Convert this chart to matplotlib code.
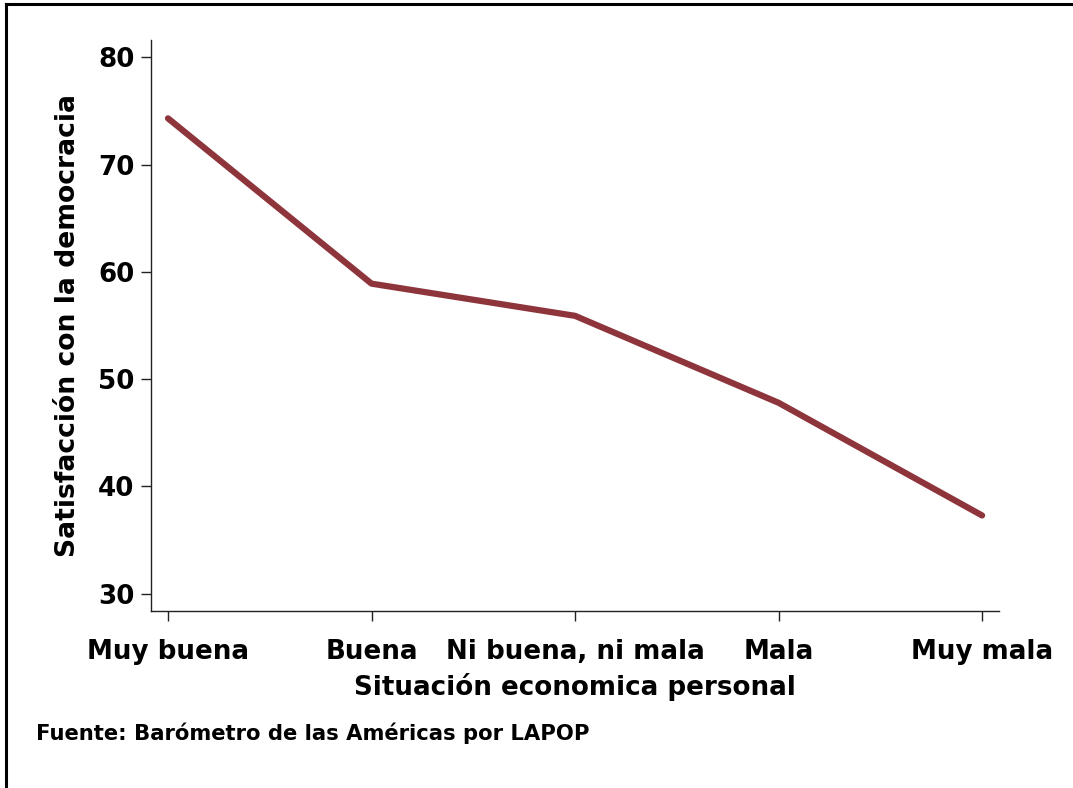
import matplotlib
matplotlib.use("Agg")
import matplotlib.pyplot as plt
from matplotlib.lines import Line2D

categories = ["Muy buena", "Buena", "Ni buena, ni mala", "Mala", "Muy mala"]
satisfaccion = [74.3, 58.9, 55.9, 47.8, 37.3]
yticks = [30, 40, 50, 60, 70, 80]

plt.rcParams['font.family'] = ['DejaVu Sans']
plt.rcParams['font.weight'] = 'bold'

W, H = 1073, 788
fig = plt.figure(figsize=(W / 100, H / 100), dpi=100)
fig.patch.set_facecolor('white')

ax = fig.add_axes([151 / W, 1 - 611 / H, (999 - 151) / W, (611 - 40) / H])
x = list(range(len(categories)))
ax.plot(x, satisfaccion, color='#8e353c', lw=4.5, solid_capstyle='round', solid_joinstyle='round')

ax.set_xlim(-0.0835, 4.083)
ax.set_ylim(28.4, 81.6)
ax.set_yticks(yticks)
ax.set_xticks(x)
ax.set_xticklabels(categories)

for s in ['top', 'right']:
    ax.spines[s].set_visible(False)
ax.spines['left'].set_linewidth(1.0)
ax.spines['bottom'].set_linewidth(1.0)
ax.spines['left'].set_color('#222222')
ax.spines['bottom'].set_color('#222222')
ax.tick_params(axis='both', direction='out', length=7, width=1.0, colors='#222222',
               labelcolor='black', labelsize=18.8)
ax.tick_params(axis='y', pad=5)
ax.tick_params(axis='x', pad=13)
for lab in ax.get_xticklabels() + ax.get_yticklabels():
    lab.set_fontweight('bold')

ax.set_ylabel("Satisfacción con la democracia", fontsize=19.2, fontweight='bold', labelpad=12)
ax.set_xlabel("Situación economica personal", fontsize=18.8, fontweight='bold', labelpad=6)

fig.text(36 / W, 1 - 740 / H, "Fuente: Barómetro de las Américas por LAPOP",
         fontsize=15.2, fontweight='bold', ha='left', va='baseline')

# figure frame (top and left edges visible)
fig.add_artist(Line2D([6 / W, 1.0], [1 - 4 / H, 1 - 4 / H], transform=fig.transFigure,
                      color='black', lw=2.2))
fig.add_artist(Line2D([6 / W, 6 / W], [0.0, 1 - 4 / H], transform=fig.transFigure,
                      color='black', lw=2.2))

fig.savefig("out.png", dpi=100, facecolor='white')
